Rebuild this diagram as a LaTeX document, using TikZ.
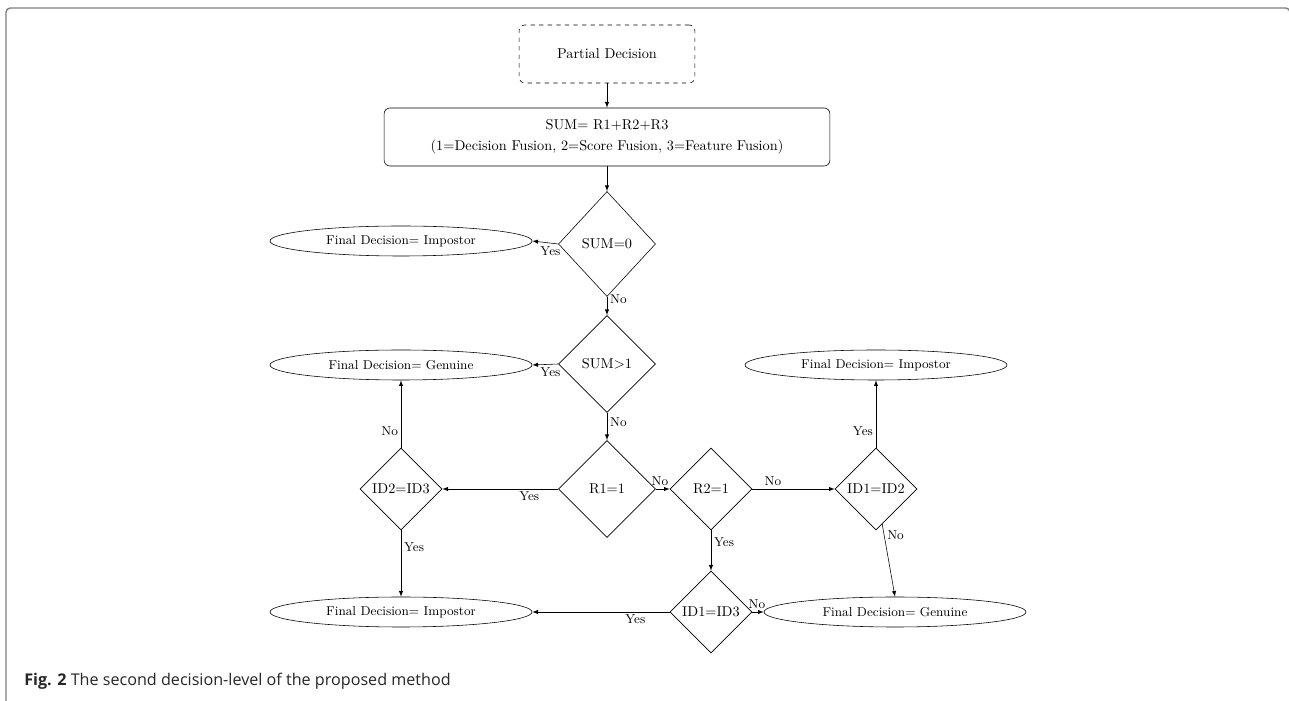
\documentclass[tikz,border=0pt]{standalone}
\usepackage{fontspec}
\newfontfamily\captionfont{Open Sans}
\usetikzlibrary{shapes.geometric,arrows,positioning}

\begin{document}
\begin{tikzpicture}[
  x=0.7pt, y=-0.7pt,
  >=latex,
  startbox/.style={
    draw,
    dashed,
    rounded corners=4pt,
    minimum width=123pt,
    minimum height=40.6pt
    },
  sumbox/.style={
    draw,
    rounded corners=4pt,
    align=center,
    minimum width=312pt,
    minimum height=40.6pt
    },
  cond/.style={
    draw,
    diamond,
    aspect=1,
    inner sep=0pt,
    minimum size=#1
    },
  final/.style={
    draw,
    ellipse,
    inner sep=0pt,
    font=\small,
    minimum width=183.4pt,
    minimum height=21pt
    },
  lbl/.style={font=\small, inner sep=2pt}
]
\useasboundingbox (0,0) rectangle (1289,701);
\draw[gray, line width=1pt, rounded corners=3pt] (6,705) -- (6,8) -- (1290,8) -- (1290,40);

\node[startbox] (partial) at (607,54) {Partial Decision};
\node[sumbox] (sum) at (607,137) {SUM= R1+R2+R3\\[3pt] (1=Decision Fusion, 2=Score Fusion, 3=Feature Fusion)};

\node[cond=67.9pt, minimum height=73.5pt] (sumzero) at (607,244) {SUM=0};
\node[cond=67.9pt] (sumone) at (607,364) {SUM>1};
\node[cond=67.9pt] (rone) at (607,489) {R1=1};
\node[cond=57.4pt] (rtwo) at (711,489) {R2=1};
\node[cond=57.4pt] (idtt) at (401,489) {ID2=ID3};
\node[cond=57.4pt] (idot) at (876,489) {ID1=ID2};
\node[cond=57.4pt] (idoth) at (711,612) {ID1=ID3};

\node[final] (impone) at (401,241) {Final Decision= Impostor};
\node[final] (genone) at (401,365) {Final Decision= Genuine};
\node[final] (imptwo) at (876,365) {Final Decision= Impostor};
\node[final] (gentwo) at (895,612) {Final Decision= Genuine};
\node[final] (impthree) at (401,612) {Final Decision= Impostor};

\draw[->] (partial) -- (sum);
\draw[->] (sum) -- (sumzero);
\draw[->] (sumzero.west) -- node[lbl, below, pos=0.3] {Yes} (impone.east);
\draw[->] (sumzero.south) -- node[lbl, right, pos=0.15] {No} (sumone.north);
\draw[->] (sumone.west) -- node[lbl, below, pos=0.3] {Yes} (genone.east);
\draw[->] (sumone.south) -- node[lbl, right, pos=0.35] {No} (rone.north);
\draw[->] (rone.west) -- node[lbl, below, pos=0.25] {Yes} (idtt.east);
\draw[->] (rone.east) -- node[lbl, above, pos=0.3] {No} (rtwo.west);
\draw[->] (rtwo.east) -- node[lbl, above, pos=0.25] {No} (idot.west);
\draw[->] (idot.north) -- node[lbl, left, pos=0.25] {Yes} (imptwo.south);
\draw[->] (idot) -- node[lbl, right, pos=0.15] {No} (gentwo.north);
\draw[->] (idtt.north) -- node[lbl, left, pos=0.25] {No} (genone.south);
\draw[->] (idtt.south) -- node[lbl, right, pos=0.25] {Yes} (impthree.north);
\draw[->] (rtwo.south) -- node[lbl, right, pos=0.3] {Yes} (idoth.north);
\draw[->] (idoth.west) -- node[lbl, below, pos=0.25] {Yes} (impthree.east);
\draw[->] (idoth.east) -- node[lbl, above, pos=0.4] {No} (gentwo.west);

\node[anchor=base west, inner sep=0pt, text=black!85, font=\captionfont\fontsize{11.3}{13.5}\selectfont] (caption) at (24,686) {\textbf{Fig. 2} The second decision-level of the proposed method};
\end{tikzpicture}
\end{document}
